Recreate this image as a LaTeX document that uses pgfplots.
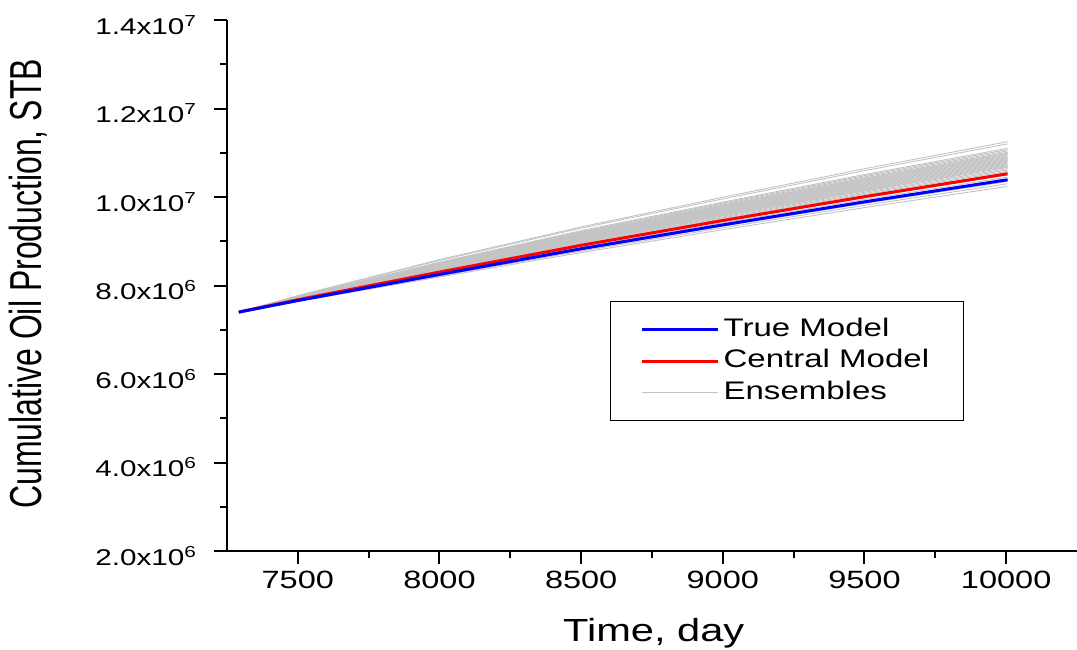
\documentclass[border=0pt]{standalone}
\usepackage{pgfplots}
\usepackage{pgfplotstable}
\pgfplotsset{compat=1.18}
\usepackage{fontspec}
\setmainfont[FakeStretch=1.3]{Liberation Sans}
\newfontfamily\plainfont{Liberation Sans}
\definecolor{enscol}{RGB}{195,195,195}

\pgfplotstableread{
t e1 e2 e3 e4 e5 e6 e7 e8 e9 e10 e11 e12 e13 e14 e15 e16 e17 e18 e19 e20 e21 e22 e23 e24 e25 e26 e27 e28 e29 e30 e31 e32 e33
7292 7.40 7.40 7.40 7.40 7.40 7.40 7.40 7.40 7.40 7.40 7.40 7.40 7.40 7.40 7.40 7.40 7.40 7.40 7.40 7.40 7.40 7.40 7.40 7.40 7.40 7.40 7.40 7.40 7.40 7.40 7.40 7.40 7.40
7500 7.772 7.765 7.752 7.748 7.745 7.741 7.738 7.735 7.733 7.730 7.728 7.725 7.722 7.720 7.717 7.715 7.712 7.709 7.707 7.704 7.702 7.699 7.696 7.693 7.689 7.685 7.681 7.674 7.668 7.661 7.655 7.648 7.641
8000 8.585 8.566 8.527 8.515 8.504 8.492 8.484 8.476 8.468 8.461 8.453 8.445 8.437 8.429 8.422 8.414 8.406 8.398 8.390 8.383 8.375 8.367 8.359 8.348 8.336 8.324 8.312 8.293 8.273 8.254 8.234 8.215 8.192
8500 9.325 9.296 9.238 9.221 9.204 9.187 9.175 9.164 9.152 9.141 9.129 9.118 9.106 9.095 9.083 9.072 9.060 9.049 9.037 9.026 9.014 9.003 8.991 8.974 8.957 8.939 8.922 8.893 8.865 8.836 8.807 8.778 8.744
9000 9.994 9.957 9.885 9.863 9.841 9.820 9.805 9.791 9.776 9.762 9.747 9.733 9.718 9.704 9.689 9.675 9.660 9.646 9.631 9.617 9.602 9.588 9.573 9.551 9.530 9.508 9.486 9.450 9.414 9.377 9.341 9.305 9.261
9500 10.638 10.595 10.508 10.482 10.456 10.429 10.412 10.395 10.377 10.360 10.342 10.325 10.308 10.290 10.273 10.255 10.238 10.221 10.203 10.186 10.168 10.151 10.134 10.108 10.081 10.055 10.029 9.986 9.942 9.899 9.855 9.812 9.760
10005 11.25 11.20 11.10 11.07 11.04 11.01 10.99 10.97 10.95 10.93 10.91 10.89 10.87 10.85 10.83 10.81 10.79 10.77 10.75 10.73 10.71 10.69 10.67 10.64 10.61 10.58 10.55 10.50 10.45 10.40 10.35 10.30 10.24
}\ensembles

\begin{document}
\begin{tikzpicture}
\useasboundingbox (-113.5pt,-49pt) rectangle (425pt,275.5pt);
\begin{axis}[
  scale only axis, width=425pt, height=265.5pt,
  xmin=7250, xmax=10250, ymin=2, ymax=14,
  axis lines=left, axis line style={-, line width=1.1pt},
  tick align=outside, tick style={black, line width=1pt},
  major tick length=6.5pt, minor tick length=3.5pt,
  xtick={7500,8000,8500,9000,9500,10000}, minor x tick num=1,
  scaled x ticks=false,
  ytick={2,4,6,8,10,12,14}, minor y tick num=1,
  yticklabels={2.0x10\textsuperscript{6},4.0x10\textsuperscript{6},6.0x10\textsuperscript{6},8.0x10\textsuperscript{6},1.0x10\textsuperscript{7},1.2x10\textsuperscript{7},1.4x10\textsuperscript{7}},
  /pgf/number format/assume math mode=true,
  /pgf/number format/1000 sep={},
  xticklabel style={font=\fontsize{12.5}{14}\selectfont},
  yticklabel style={font=\fontsize{11.4}{14}\selectfont, anchor=base east, yshift=-7.2pt, xshift=-5pt},
  xlabel={Time, day},
  xlabel style={font=\fontsize{16}{19}\selectfont, at={(axis description cs:0.502,-0.1695)}, anchor=base},
  ylabel={\scalebox{1}[1.4]{Cumulative Oil Production, STB}},
  ylabel style={font=\plainfont\fontsize{16}{19}\selectfont, at={(axis description cs:-0.234,0.503)}, anchor=center},
  legend cell align=left,
  legend image code/.code={\draw[#1] (0pt,0pt) -- (38pt,0pt);},
  legend style={at={(0.4506,0.4708)}, anchor=north west, draw=black, line width=0.6pt,
    font=\fontsize{12.7}{15}\selectfont, inner xsep=15pt, inner ysep=6pt,
    row sep=0pt, column sep=0pt,
    nodes={inner sep=2pt, text height=9.3pt, text depth=2.5pt}},
]
\addlegendimage{blue, line width=1.5pt}
\addlegendentry{True Model}
\addlegendimage{red, line width=1.5pt}
\addlegendentry{Central Model}
\addlegendimage{enscol, line width=0.5pt}
\addlegendentry{Ensembles}

\pgfplotsinvokeforeach{1,...,33}{
  \addplot[enscol, line width=0.45pt, forget plot] table[x=t, y=e#1] {\ensembles};
}
\addplot[red, line width=1.5pt, forget plot] coordinates {
  (7292,7.40) (7500,7.678) (8000,8.303) (8500,8.908) (9000,9.468) (9500,10.007) (10005,10.525)
};
\addplot[blue, line width=1.5pt, forget plot] coordinates {
  (7292,7.40) (7500,7.66) (8000,8.25) (8500,8.83) (9000,9.37) (9500,9.89) (10005,10.39)
};
\end{axis}
\end{tikzpicture}
\end{document}
